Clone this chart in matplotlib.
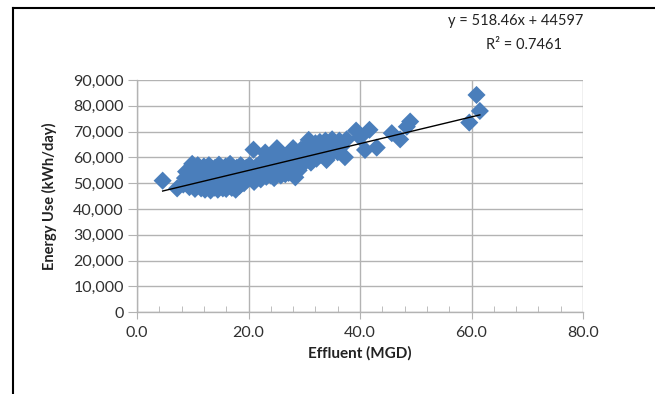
import matplotlib
matplotlib.use("Agg")
import matplotlib.pyplot as plt
import numpy as np
from matplotlib.lines import Line2D
from matplotlib.ticker import MultipleLocator, FuncFormatter

plt.rcParams['font.family'] = ['Lato', 'DejaVu Sans']

# Effluent (MGD)
effluent = [
    4.6, 7.2, 8.3, 8.6, 8.8, 9.0, 9.2, 9.4, 9.5, 9.7, 9.9, 10.0, 10.1, 10.3, 10.4, 10.6, 10.8, 10.9,
    11.0, 11.2, 11.4, 11.5, 11.7, 11.9, 12.0, 12.2, 12.4, 12.5, 12.7, 12.9, 13.0, 13.2, 13.4, 13.5,
    13.7, 13.9, 14.0, 14.2, 14.4, 14.5, 14.7, 14.9, 15.0, 15.2, 15.4, 15.5, 15.7, 15.9, 16.0, 16.2,
    16.4, 16.5, 16.7, 16.9, 17.0, 17.2, 17.4, 17.5, 17.7, 17.9, 18.0, 18.2, 18.4, 18.6, 18.8, 19.0,
    19.2, 19.4, 19.6, 19.8, 20.0, 20.2, 20.4, 20.6, 20.9, 21.0, 21.2, 21.4, 21.6, 21.8, 22.0, 22.2,
    22.4, 22.6, 22.8, 23.0, 23.2, 23.4, 23.6, 23.8, 24.0, 24.2, 24.4, 24.6, 24.8, 25.1, 25.2, 25.4,
    25.6, 25.8, 26.0, 26.2, 26.4, 26.6, 26.8, 27.0, 27.2, 27.4, 27.6, 27.8, 28.0, 28.2, 28.4, 28.6,
    28.8, 29.0, 29.2, 29.4, 29.6, 29.8, 30.0, 30.2, 30.4, 30.8, 31.0, 31.2, 31.4, 31.6, 31.8, 32.0,
    32.2, 32.5, 32.8, 33.0, 33.2, 33.8, 34.0, 34.2, 34.5, 34.8, 35.0, 35.3, 35.6, 36.0, 36.3, 36.6,
    37.3, 37.6, 39.3, 40.0, 40.9, 41.7, 43.0, 45.7, 47.2, 48.4, 49.0, 59.6, 60.9, 61.5,
]
# Energy use (kWh/day)
energy = [
    51000, 48000, 49500, 52000, 54500, 50500, 53000, 48500, 55500, 51500, 57500, 49000, 53500, 56000, 47800, 51000, 54000, 57000,
    49500, 52500, 55000, 48000, 50500, 53500, 56500, 47500, 51500, 54500, 49000, 57000, 52500, 47200, 55500, 50000,
    53000, 48300, 56000, 51000, 54000, 47500, 57200, 49500, 52500, 55000, 48000, 50500, 53500, 56500, 47800, 51500,
    54500, 49000, 57500, 52000, 48200, 55500, 50000, 53000, 47500, 56000, 51000, 54000, 49000, 57000, 52000, 55000,
    50000, 53000, 56000, 51500, 54000, 57000, 52000, 55000, 63000, 50500, 53500, 56500, 52000, 54500, 57500, 51500,
    55000, 53000, 58500, 61900, 52500, 56000, 54000, 59000, 53000, 57000, 55000, 52000, 60000, 63600, 56000, 54000,
    58000, 53000, 61000, 55000, 57500, 53500, 59500, 56000, 54000, 62000, 58000, 55500, 63600, 60000, 52300, 57000,
    61500, 55000, 59000, 63000, 57000, 61000, 58500, 64000, 60000, 66800, 62000, 58000, 64500, 60500, 63000, 65500,
    59500, 62000, 66000, 61000, 64000, 66500, 59000, 63000, 65000, 61500, 67000, 63500, 65500, 62000, 66500, 64000,
    60100, 67000, 70400, 67800, 62900, 70700, 63800, 69400, 67000, 71900, 73900, 73500, 84200, 78000,
]

slope = 518.46
intercept = 44597
r_squared = 0.7461

W, H = 655, 394
fig = plt.figure(figsize=(W / 100, H / 100), dpi=100)

# outer chart border (left and top edges visible; others run off the canvas)
bx, by = 12.5 / W, 1 - 8 / H
fig.add_artist(Line2D([bx, bx], [0, by], transform=fig.transFigure, color='black',
                      linewidth=1.5, zorder=5))
fig.add_artist(Line2D([bx, 1], [by, by], transform=fig.transFigure, color='black',
                      linewidth=1.5, zorder=5))

ax = fig.add_axes([137 / W, (H - 312.3) / H, (583 - 137) / W, (312.3 - 80) / H])
ax.set_xlim(0, 80)
ax.set_ylim(0, 90000)

grid_c = '#b3b3b3'
txt_c = '#303030'
ax.xaxis.set_major_locator(MultipleLocator(20))
ax.xaxis.set_minor_locator(MultipleLocator(4))
ax.yaxis.set_major_locator(MultipleLocator(10000))
ax.grid(True, which='major', color=grid_c, linewidth=1.0)
ax.set_axisbelow(True)
for s in ['top', 'right']:
    ax.spines[s].set_visible(False)
for s in ['left', 'bottom']:
    ax.spines[s].set_color(grid_c)
    ax.spines[s].set_linewidth(1.0)

ax.xaxis.set_major_formatter(FuncFormatter(lambda v, p: f"{v:.1f}"))
ax.yaxis.set_major_formatter(FuncFormatter(lambda v, p: f"{int(v):,}"))
ax.tick_params(axis='x', which='major', direction='out', length=5, color=grid_c,
               labelsize=11.5, pad=5, labelcolor=txt_c)
ax.tick_params(axis='x', which='minor', direction='in', length=4, color=grid_c)
ax.tick_params(axis='y', which='major', direction='out', length=6.5, color=grid_c,
               labelsize=11.5, pad=3, labelcolor=txt_c)

ax.scatter(effluent, energy, marker='D', s=85, color='#4a7ebb', edgecolors='none', zorder=3)

xs = np.array([min(effluent), max(effluent)])
ax.plot(xs, slope * xs + intercept, color='black', linewidth=1.0, zorder=4)

ax.set_xlabel('Effluent (MGD)', fontsize=11, fontweight='bold', labelpad=4, color='#222222')
ax.set_ylabel('Energy Use (kWh/day)', fontsize=10.5, fontweight='bold', labelpad=12, color='#222222')

fig.text(516 / W, 1 - 21 / H, f"y = {slope}x + {intercept}", ha='center', va='center',
         fontsize=10.5, color='#222222')
fig.text(524 / W, 1 - 45 / H, f"R² = {r_squared}", ha='center', va='center',
         fontsize=10.5, color='#222222')

fig.savefig('out.png', dpi=100)
